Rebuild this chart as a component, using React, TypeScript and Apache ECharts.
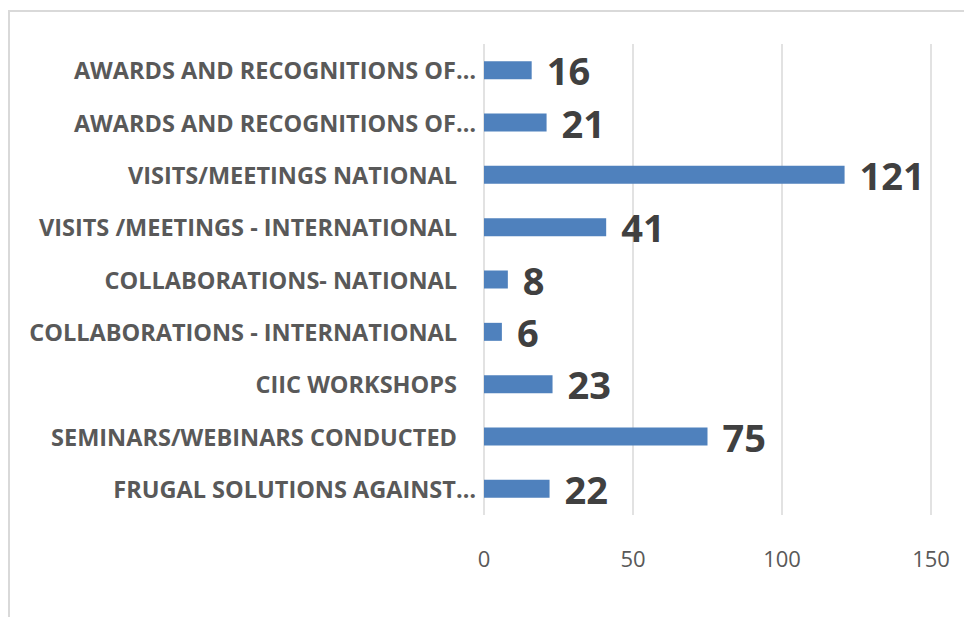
import React, { useEffect, useRef } from "react";
import * as echarts from "echarts";

// Activity categories, listed top to bottom
const categories: string[] = [
  "AWARDS AND RECOGNITIONS OF…",
  "AWARDS AND RECOGNITIONS OF…",
  "VISITS/MEETINGS NATIONAL",
  "VISITS /MEETINGS - INTERNATIONAL",
  "COLLABORATIONS- NATIONAL",
  "COLLABORATIONS - INTERNATIONAL",
  "CIIC WORKSHOPS",
  "SEMINARS/WEBINARS CONDUCTED",
  "FRUGAL SOLUTIONS AGAINST…",
];

// Count for each activity
const counts: number[] = [16, 21, 121, 41, 8, 6, 23, 75, 22];

// Value axis ticks
const axisMin = 0;
const axisMax = 150;
const axisStep = 50;

export default function App() {
  const ref = useRef<HTMLDivElement>(null);

  useEffect(() => {
    if (!ref.current) return;
    const chart = echarts.init(ref.current, undefined, { renderer: "svg" });
    chart.setOption({
      animation: false,
      backgroundColor: "#ffffff",
      graphic: [
        {
          type: "rect",
          silent: true,
          shape: { x: 9, y: 11, width: 1000, height: 700 },
          style: { fill: "none", stroke: "#d9d9d9", lineWidth: 2 },
        },
      ],
      grid: { left: 484, right: 33, top: 44, bottom: 102, containLabel: false },
      xAxis: {
        type: "value",
        min: axisMin,
        max: axisMax,
        interval: axisStep,
        axisLine: { show: false },
        axisTick: { show: false },
        splitLine: { show: true, lineStyle: { color: "#d9d9d9", width: 1.5 } },
        axisLabel: {
          color: "#595959",
          fontFamily: "Open Sans",
          fontSize: 22,
          margin: 32,
        },
      },
      yAxis: {
        type: "category",
        inverse: true,
        data: categories,
        axisLine: { show: false },
        axisTick: { show: false },
        axisLabel: {
          margin: 8,
          formatter: (v: string) =>
            v.endsWith("…") ? `{t|${v}}` : `{n|${v}}`,
          rich: {
            t: {
              color: "#595959",
              fontFamily: "Open Sans",
              fontWeight: "bold",
              fontSize: 23.5,
            },
            n: {
              color: "#595959",
              fontFamily: "Open Sans",
              fontWeight: "bold",
              fontSize: 23.5,
              padding: [0, 19, 0, 0],
            },
          },
        },
      },
      series: [
        {
          type: "bar",
          data: counts,
          barWidth: 18,
          itemStyle: { color: "#4f81bd" },
          label: {
            show: true,
            position: "right",
            distance: 15,
            color: "#404040",
            fontFamily: "Open Sans",
            fontWeight: "bold",
            fontSize: 38,
          },
        },
      ],
    });
    return () => chart.dispose();
  }, []);

  return (
    <div
      ref={ref}
      style={{ position: "absolute", left: 0, top: 0, width: 964, height: 617 }}
    />
  );
}
